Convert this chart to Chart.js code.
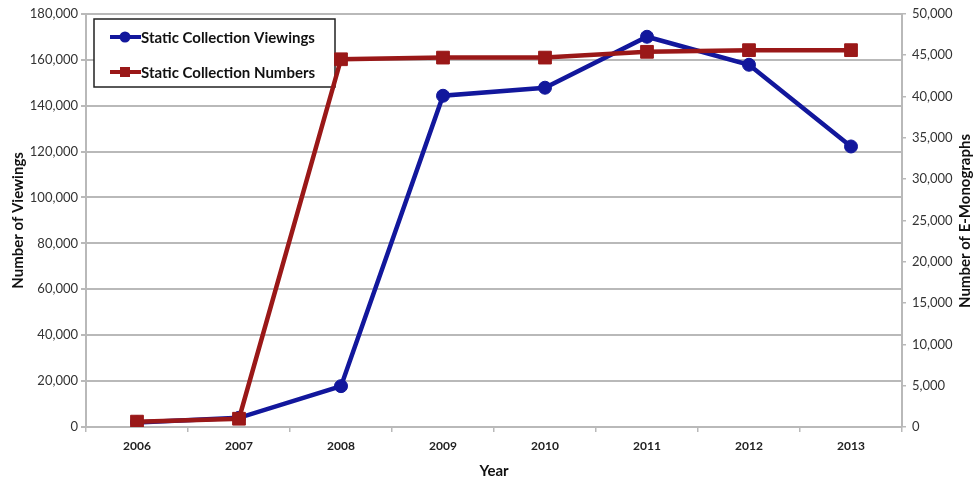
<!DOCTYPE html>
<html>
<head>
<meta charset="utf-8">
<script src="https://cdn.jsdelivr.net/npm/chart.js@4.4.0/dist/chart.umd.min.js"></script>
<style>
    html, body { margin: 0; padding: 0; background: #fff; }
    #wrap { position: relative; width: 975px; height: 482px; }
</style>
</head>
<body>
<div id="wrap"><canvas id="chart" width="975" height="482"></canvas></div>
<script>
// categories
const YEARS = ['2006', '2007', '2008', '2009', '2010', '2011', '2012', '2013'];

// series (viewings on the left axis, e-monographs on the right axis)
const VIEWINGS = [2000, 4000, 17800, 144300, 147800, 170000, 157800, 122200];
const E_MONOGRAPHS = [650, 1000, 44500, 44700, 44700, 45400, 45600, 45600];

// labels
const SERIES_NAMES = ['Static Collection Viewings', 'Static Collection Numbers'];
const LEFT_TITLE = 'Number of Viewings';
const RIGHT_TITLE = 'Number of E-Monographs';
const X_TITLE = 'Year';

const BLUE = '#12179c';
const RED = '#9a1818';
const GRID = '#b9b9b9';
const FONT = 'Lato, "DejaVu Sans", sans-serif';

// legend box in the top left corner
const boxLegend = {
    id: 'boxLegend',
    beforeDatasetsDraw(chart) {
        const ctx = chart.ctx;
        const x = 94, y = 19, w = 241, h = 68;
        ctx.save();
        ctx.fillStyle = '#fff';
        ctx.fillRect(x, y, w, h);
        ctx.strokeStyle = '#222';
        ctx.lineWidth = 1.5;
        ctx.strokeRect(x, y, w, h);

        const rows = [
            { color: BLUE, shape: 'circle', label: SERIES_NAMES[0], cy: 37 },
            { color: RED, shape: 'rect', label: SERIES_NAMES[1], cy: 72 }
        ];
        rows.forEach(function(r) {
            ctx.strokeStyle = r.color;
            ctx.fillStyle = r.color;
            ctx.lineWidth = 4;
            ctx.beginPath();
            ctx.moveTo(110, r.cy);
            ctx.lineTo(141, r.cy);
            ctx.stroke();
            ctx.beginPath();
            if (r.shape === 'circle') {
                ctx.arc(125, r.cy, 5.5, 0, Math.PI * 2);
            } else {
                ctx.rect(120, r.cy - 5, 10, 10);
            }
            ctx.fill();
            ctx.fillStyle = '#111';
            ctx.font = 'bold 15px ' + FONT;
            ctx.textAlign = 'left';
            ctx.textBaseline = 'middle';
            ctx.fillText(r.label, 141, r.cy + 1);
        });
        ctx.restore();
    }
};

// right title reads bottom to top, like the left one
const rightTitle = {
    id: 'rightTitle',
    afterDraw(chart) {
        const ctx = chart.ctx;
        ctx.save();
        ctx.translate(965, 221);
        ctx.rotate(-Math.PI / 2);
        ctx.fillStyle = '#111';
        ctx.font = 'bold 15px ' + FONT;
        ctx.textAlign = 'center';
        ctx.textBaseline = 'middle';
        ctx.fillText(RIGHT_TITLE, 0, 0);
        ctx.restore();
    }
};

const ctx = document.getElementById('chart');

new Chart(ctx, {
    type: 'line',
    data: {
        labels: YEARS,
        datasets: [
            {
                label: SERIES_NAMES[0],
                data: VIEWINGS,
                yAxisID: 'y',
                borderColor: BLUE,
                backgroundColor: BLUE,
                borderWidth: 4.5,
                pointStyle: 'circle',
                pointRadius: 6.5,
                pointBorderWidth: 1,
                tension: 0,
                order: 1
            },
            {
                label: SERIES_NAMES[1],
                data: E_MONOGRAPHS,
                yAxisID: 'y1',
                borderColor: RED,
                backgroundColor: RED,
                borderWidth: 4.5,
                pointStyle: 'rect',
                pointRadius: 9,
                pointBorderWidth: 1,
                tension: 0,
                order: 0
            }
        ]
    },
    options: {
        responsive: false,
        animation: false,
        devicePixelRatio: 1,
        layout: { padding: { top: 13, left: 0, right: 0, bottom: 0 } },
        plugins: {
            legend: { display: false },
            tooltip: { enabled: false }
        },
        scales: {
            x: {
                offset: true,
                grid: {
                    display: true,
                    offset: true,
                    drawOnChartArea: false,
                    drawTicks: true,
                    tickLength: 5,
                    color: GRID,
                    lineWidth: 1.5
                },
                border: { display: true, color: GRID, width: 2 },
                ticks: {
                    color: '#222',
                    padding: 7,
                    maxRotation: 0,
                    font: { family: FONT, size: 12, weight: 'bold' }
                },
                title: {
                    display: true,
                    text: X_TITLE,
                    color: '#111',
                    padding: { top: 0, bottom: 2 },
                    font: { family: FONT, size: 15, weight: 'bold' }
                },
                afterFit(scale) { scale.height = 55; }
            },
            y: {
                position: 'left',
                min: 0,
                max: 180000,
                grid: {
                    color: GRID,
                    lineWidth: 2,
                    tickLength: 5
                },
                border: { display: true, color: GRID, width: 2 },
                ticks: {
                    stepSize: 20000,
                    color: '#333',
                    padding: 3,
                    font: { family: FONT, size: 13 },
                    callback: function(v) { return v.toLocaleString('en-US'); }
                },
                title: {
                    display: true,
                    text: LEFT_TITLE,
                    color: '#111',
                    padding: { top: 9, bottom: 0 },
                    font: { family: FONT, size: 15, weight: 'bold' }
                },
                afterFit(scale) { scale.width = 86; }
            },
            y1: {
                position: 'right',
                min: 0,
                max: 50000,
                grid: {
                    drawOnChartArea: false,
                    color: GRID,
                    lineWidth: 1.5,
                    tickLength: 4
                },
                border: { display: true, color: GRID, width: 2 },
                ticks: {
                    stepSize: 5000,
                    color: '#333',
                    padding: 6,
                    font: { family: FONT, size: 13 },
                    callback: function(v) { return v.toLocaleString('en-US'); }
                },
                afterFit(scale) { scale.width = 73; }
            }
        }
    },
    plugins: [boxLegend, rightTitle]
});
</script>
</body>
</html>
